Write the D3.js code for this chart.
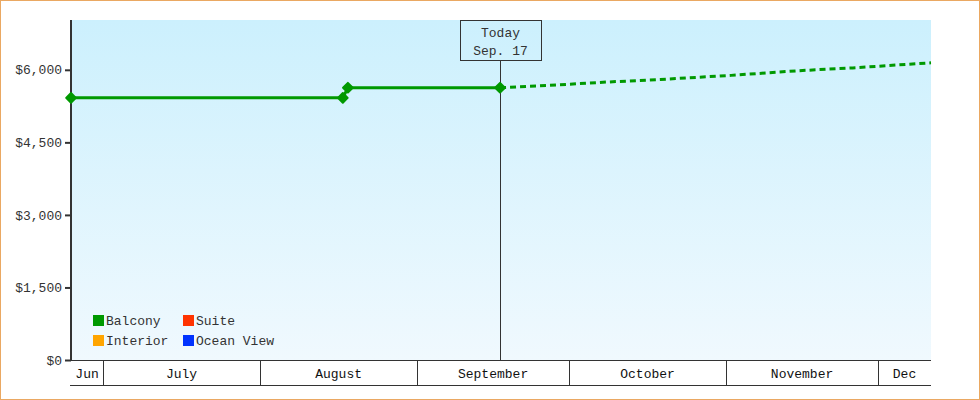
<!DOCTYPE html>
<html lang="en">
<head>
  <meta charset="utf-8" />
  <script src="https://d3js.org/d3.v7.min.js"></script>
  <style>
    body { margin: 0; background: #fff; }
    text { font-family: "Liberation Mono", "DejaVu Sans Mono", monospace; font-size: 13px; fill: #333; }
    .axis path, .axis line { stroke: #333; }
  </style>
</head>
<body>
  <div id="visu"></div>
  <script>
    const width = 980, height = 400;
    const margin = { top: 20, right: 49, bottom: 40, left: 71 };

    const parse = d3.isoParse;
    const dateRange = ["2019-06-24T16:00", "2019-12-11T11:00"];
    const todayDate = "2019-09-17T09:00";
    const todayLabel = ["Today", "Sep. 17"];

    const monthLabels = ["Jun", "July", "August", "September", "October", "November", "Dec"];
    const yTicks = [0, 1500, 3000, 4500, 6000];
    const yMax = 7030;

    // Balcony: prix observés puis projection
    const balconyDates = ["2019-06-24T16:00", "2019-08-17T08:00", "2019-08-18T08:00", "2019-09-17T09:00"];
    const balconyValues = [5420, 5420, 5630, 5630];
    const forecastDates = ["2019-09-17T09:00", "2019-09-29", "2019-10-09", "2019-10-19", "2019-11-02", "2019-11-15", "2019-11-26", "2019-12-11T11:00"];
    const forecastValues = [5630, 5690, 5750, 5800, 5885, 5980, 6040, 6145];

    const legendNames = ["Balcony", "Suite", "Interior", "Ocean View"];
    const legendColors = ["#009900", "#ff3300", "#ffa500", "#0033ff"];

    const w = width - margin.left - margin.right;
    const h = height - margin.top - margin.bottom;

    const svg = d3.select("#visu").append("svg")
      .attr("width", width)
      .attr("height", height);

    svg.append("rect")
      .attr("x", 0.5).attr("y", 0.5)
      .attr("width", width - 1).attr("height", height - 1)
      .style("fill", "#fff")
      .style("stroke", "#eaa862");

    const grad = svg.append("defs").append("linearGradient")
      .attr("id", "bg").attr("x1", 0).attr("y1", 0).attr("x2", 0).attr("y2", 1);
    grad.append("stop").attr("offset", "0%").attr("stop-color", "#ccf0fd");
    grad.append("stop").attr("offset", "100%").attr("stop-color", "#f0f9fe");

    const g = svg.append("g").attr("transform", `translate(${margin.left},${margin.top})`);

    g.append("rect").attr("width", w).attr("height", h).style("fill", "url(#bg)");

    const x = d3.scaleTime().domain(dateRange.map(parse)).range([0, w]);
    const y = d3.scaleLinear().domain([0, yMax]).range([h, 0]);

    // axe Y
    const yAxis = g.append("g").attr("class", "axis")
      .call(d3.axisLeft(y).tickValues(yTicks).tickSize(6).tickPadding(3).tickFormat(d => "$" + d3.format(",")(d)));
    yAxis.select(".domain").remove();
    yAxis.selectAll("line").style("stroke-width", "2px");
    yAxis.selectAll("text").style("font-size", "13px").attr("fill", "#333");
    g.append("line")
      .attr("x1", 0).attr("x2", 0).attr("y1", 0).attr("y2", h + 1)
      .style("stroke", "#333").style("stroke-width", "2px");

    // axe X : cases des mois
    const [d0, d1] = x.domain();
    const starts = [d0].concat(d3.timeMonth.range(d3.timeMonth.ceil(d0), d1));
    const bounds = starts.map((s, i) => [s, i < starts.length - 1 ? starts[i + 1] : d1]);
    const xAxis = g.append("g").attr("transform", `translate(0,${h})`);
    xAxis.append("line").attr("x1", 0).attr("x2", w).attr("y1", 0.5).attr("y2", 0.5).style("stroke", "#333");
    xAxis.append("line").attr("x1", -1).attr("x2", w).attr("y1", 25.5).attr("y2", 25.5).style("stroke", "#333");
    xAxis.selectAll(".sep")
      .data(starts.slice(1))
      .enter().append("line")
      .attr("x1", d => Math.round(x(d)) + 0.5).attr("x2", d => Math.round(x(d)) + 0.5)
      .attr("y1", 0).attr("y2", 25)
      .style("stroke", "#333");
    xAxis.selectAll(".mlabel")
      .data(bounds)
      .enter().append("text")
      .attr("x", d => (x(d[0]) + x(d[1])) / 2)
      .attr("y", 18)
      .attr("text-anchor", "middle")
      .style("fill", "#111")
      .text((d, i) => monthLabels[i]);

    // marqueur aujourd'hui
    const tx = Math.round(x(parse(todayDate))) + 0.5;
    g.append("line")
      .attr("x1", tx).attr("x2", tx).attr("y1", 40).attr("y2", h)
      .style("stroke", "#333");
    g.append("rect")
      .attr("x", tx - 40).attr("y", 0.5).attr("width", 81).attr("height", 40)
      .style("fill", "none").style("stroke", "#333");
    g.selectAll(".today")
      .data(todayLabel)
      .enter().append("text")
      .attr("x", tx)
      .attr("y", (d, i) => 17 + i * 18)
      .attr("text-anchor", "middle")
      .text(d => d);

    // séries
    const line = d3.line().x(d => x(d.date)).y(d => y(d.value));
    const balcony = balconyDates.map((d, i) => ({ date: parse(d), value: balconyValues[i] }));
    const forecast = forecastDates.map((d, i) => ({ date: parse(d), value: forecastValues[i] }));

    g.append("path")
      .attr("d", line(forecast))
      .style("fill", "none").style("stroke", "#009900")
      .style("stroke-width", "3px").style("stroke-dasharray", "6,4");

    g.append("path")
      .attr("d", line(balcony))
      .style("fill", "none").style("stroke", "#009900")
      .style("stroke-width", "3px");

    g.selectAll(".pt")
      .data(balcony)
      .enter().append("path")
      .attr("d", d3.symbol(d3.symbolDiamond2, 60))
      .attr("transform", d => `translate(${x(d.date)},${y(d.value)})`)
      .style("fill", "#009900").style("stroke", "#009900").style("stroke-width", "2px")
      .style("stroke-linejoin", "round");

    // légende
    const legend = g.selectAll(".leg")
      .data(legendNames)
      .enter().append("g")
      .attr("transform", (d, i) => `translate(${22 + (i % 2) * 90},${295 + Math.floor(i / 2) * 20})`);
    legend.append("rect")
      .attr("width", 11).attr("height", 11)
      .style("fill", (d, i) => legendColors[i]);
    legend.append("text")
      .attr("x", 13).attr("y", 10)
      .text(d => d);
  </script>
</body>
</html>
